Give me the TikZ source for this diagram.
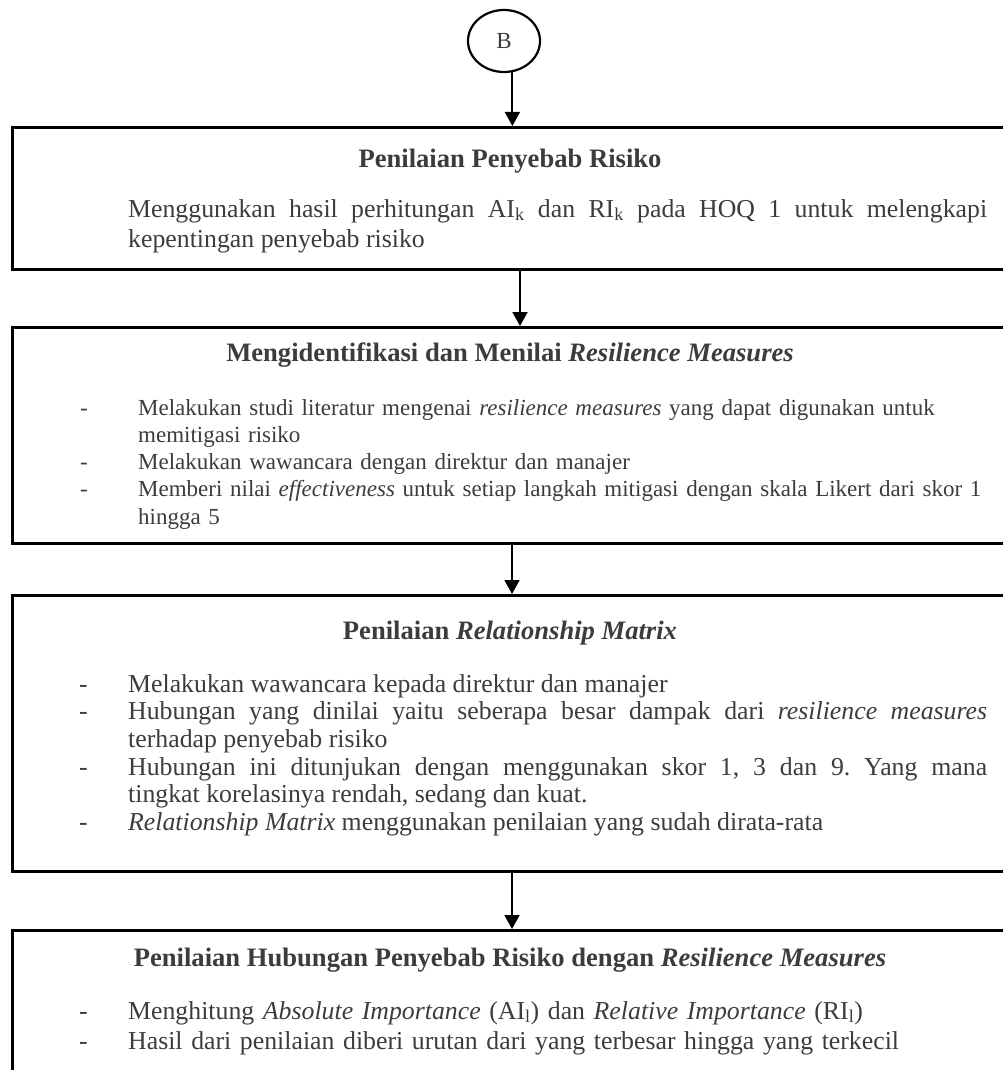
\documentclass[tikz,border=0pt]{standalone}
\usepackage{fontspec}
\setmainfont{Liberation Serif}
\usetikzlibrary{arrows.meta,shapes.geometric}
\definecolor{txt}{HTML}{3C3C3C}
\setlength{\parskip}{0pt}
\frenchspacing
\newcommand{\titletext}{\fontsize{26.6pt}{30pt}\selectfont\bfseries}
\newcommand{\bodytext}{\fontsize{25.8pt}{30pt}\selectfont}
\newcommand{\listtext}{\fontsize{25.8pt}{27.7pt}\selectfont}
\newcommand{\smalltext}{\fontsize{23pt}{27.3pt}\selectfont}
% one bullet: a dash in a hanging box, then the text; the paragraph ends inside
\newcommand{\dashitem}[2]{\noindent\hangindent=#1\relax\hangafter=1\relax\makebox[#1][l]{-}#2\par}

\begin{document}
\begin{tikzpicture}[x=1pt,y=-1pt,
  frame/.style={draw=black, line width=2.7pt, rectangle, anchor=north west, minimum width=1010pt, inner sep=0pt},
  arr/.style={draw=black, line width=2pt, -{Triangle[length=14pt,width=15pt]}},
  title/.style={anchor=base, inner sep=0pt, text=txt, font=\titletext},
  body/.style={anchor=base west, inner sep=0pt, text=txt, font=\bodytext},
  list/.style={anchor=base west, inner sep=0pt, text=txt, font=\listtext},
  small/.style={anchor=base west, inner sep=0pt, text=txt, font=\smalltext}
]
\useasboundingbox (0,0) rectangle (1003,1070);
\clip (0,0) rectangle (1003,1070);

% connector node
\node[ellipse, draw=black, line width=2.2pt, minimum width=72pt, minimum height=62pt,
      inner sep=0pt, text=txt, font=\fontsize{23pt}{26pt}\selectfont] (B) at (504,41) {B};

% frames
\node[frame, minimum height=142pt] (box1) at (11,126) {};
\node[frame, minimum height=216pt] (box2) at (11,326) {};
\node[frame, minimum height=276pt] (box3) at (11,594) {};
\node[frame, minimum height=200pt] (box4) at (11,929) {};

% arrows
\coordinate (xa) at (520,0);
\coordinate (xb) at (512,0);
\draw[arr] (B.-75) -- (B.-75 |- box1.north);
\draw[arr] (box1.south -| xa) -- (box2.north -| xa);
\draw[arr] (box2.south -| xb) -- (box3.north -| xb);
\draw[arr] (box3.south -| xb) -- (box4.north -| xb);

% step 1
\node[title] (t1) at (510,167) {Penilaian Penyebab Risiko};
\node[body, text width=859pt, align=justify] (p1) at (128,217)
  {Menggunakan hasil perhitungan AI\textsubscript{k} dan RI\textsubscript{k} pada HOQ 1 untuk melengkapi\linebreak kepentingan penyebab risiko};

% step 2
\node[title] (t2) at (510,361) {Mengidentifikasi dan Menilai \textit{Resilience Measures}};
\node[small, text width=920pt, align=left] (p2) at (80,415)
  {\dashitem{58pt}{Melakukan studi literatur mengenai \textit{resilience measures} yang dapat digunakan untuk\newline memitigasi risiko}
   \dashitem{58pt}{Melakukan wawancara dengan direktur dan manajer}
   \dashitem{58pt}{Memberi nilai \textit{effectiveness} untuk setiap langkah mitigasi dengan skala Likert dari skor 1\newline hingga 5}};

% step 3
\node[title] (t3) at (510,639) {Penilaian \textit{Relationship Matrix}};
\node[list, text width=908pt, align=justify] (p3) at (79,692)
  {\dashitem{49pt}{Melakukan wawancara kepada direktur dan manajer}
   \dashitem{49pt}{Hubungan yang dinilai yaitu seberapa besar dampak dari \textit{resilience measures}\linebreak terhadap penyebab risiko}
   \dashitem{49pt}{Hubungan ini ditunjukan dengan menggunakan skor 1, 3 dan 9. Yang mana\linebreak tingkat korelasinya rendah, sedang dan kuat.}
   \dashitem{49pt}{\textit{Relationship Matrix} menggunakan penilaian yang sudah dirata-rata}};

% step 4
\node[title] (t4) at (510,966) {Penilaian Hubungan Penyebab Risiko dengan \textit{Resilience Measures}};
\node[body, text width=920pt, align=left] (p4) at (79,1019)
  {\dashitem{49pt}{Menghitung \textit{Absolute Importance} (AI\textsubscript{l}) dan \textit{Relative Importance} (RI\textsubscript{l})}
   \dashitem{49pt}{Hasil dari penilaian diberi urutan dari yang terbesar hingga yang terkecil}};
\end{tikzpicture}
\end{document}
